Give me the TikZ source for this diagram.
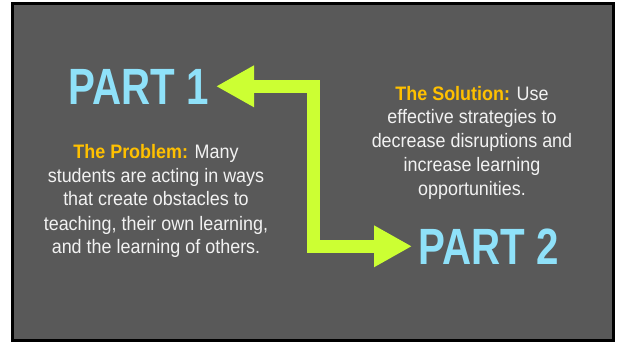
\documentclass[tikz,border=0pt]{standalone}
\usepackage{fontspec}
\setmainfont{Liberation Sans}
\newfontfamily\partfont[FakeStretch=0.79]{Liberation Sans}
\newfontfamily\bodyfont[FakeStretch=0.92]{Liberation Sans}
\usetikzlibrary{arrows.meta}
\definecolor{bggray}{HTML}{595959}
\definecolor{partcyan}{HTML}{8FE1F9}
\definecolor{limearrow}{HTML}{CCFF33}
\definecolor{goldlabel}{HTML}{FFC000}
\definecolor{bodywhite}{HTML}{F2F2F2}
\begin{document}
\begin{tikzpicture}[x=1pt,y=-1pt,
  parttext/.style={font=\partfont\bfseries\fontsize{51}{51}\selectfont, text=partcyan, inner sep=0pt, anchor=base},
  bodytext/.style={font=\bodyfont\fontsize{19.5}{24}\selectfont, text=bodywhite, align=center, inner sep=0pt, anchor=base},
  bigarrow/.style={draw=limearrow, line width=12.7pt, line join=miter,
    {Triangle[length=38pt,width=39pt]}-{Triangle[length=38pt,width=39pt]}}
  ]
  \useasboundingbox (0,0) rectangle (619,342);
  \fill[black] (11,2) rectangle (615,342);
  \fill[bggray] (14,5) rectangle (612,339);

  \node[parttext] (part1) at (138.7,105) {PART 1};
  \node[parttext] (part2) at (489,265) {PART 2};

  % anchor=base of a multi-line node is the baseline of its last line
  \node[bodytext] (problem) at (156,254) {{\color{goldlabel}\bfseries The Problem:} Many\\students are acting in ways\\that create obstacles to\\teaching, their own learning,\\and the learning of others.};
  \node[bodytext] (solution) at (472,196) {{\color{goldlabel}\bfseries The Solution:} Use\\effective strategies to\\decrease disruptions and\\increase learning\\opportunities.};

  \coordinate (tip1) at (216,86.3);
  \coordinate (tip2) at (412,246.3);
  \coordinate (bend1) at (313.5,86.3);
  \coordinate (bend2) at (313.5,246.3);
  \draw[bigarrow] (tip1) -- (bend1) -- (bend2) -- (tip2);
\end{tikzpicture}
\end{document}
